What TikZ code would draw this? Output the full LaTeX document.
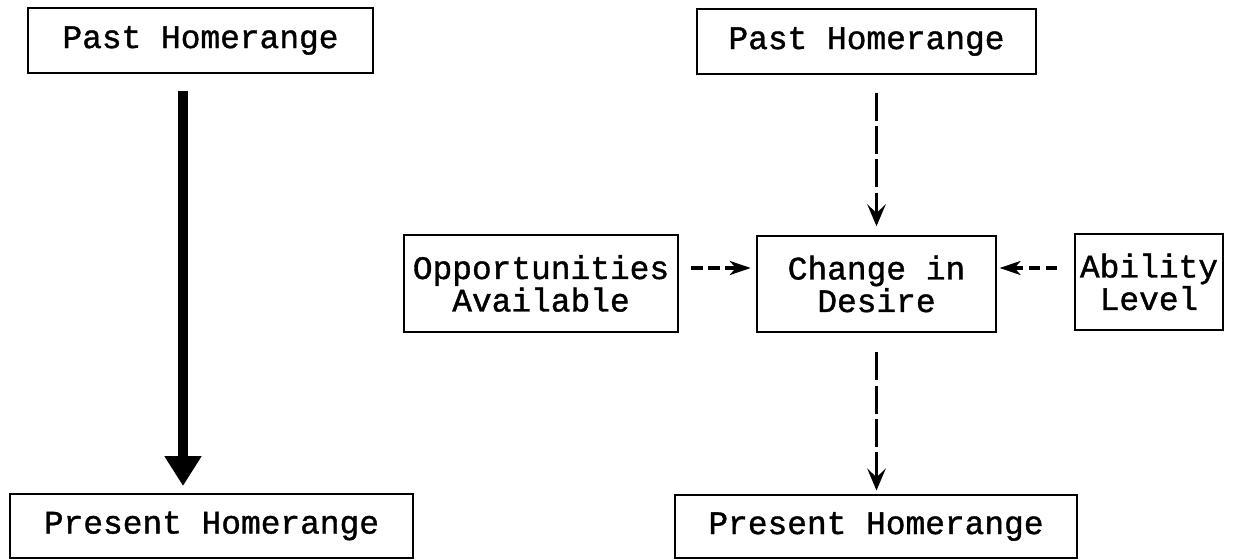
\documentclass[tikz,border=0pt]{standalone}
\usepackage{xcolor}
\usepackage{fontspec}
\setmainfont{Liberation Mono}
\newfontface\boxfont{Liberation Mono}[FakeBold=1.2]
\usepackage{tikz}
\usetikzlibrary{positioning,arrows.meta}

\begin{document}
\begin{tikzpicture}[x=0.02cm, y=-0.02cm,
  box/.style={draw, line width=1.1pt, inner sep=0pt, align=center,
    font=\boxfont\fontsize{18.7pt}{18.5pt}\selectfont},
  thickarr/.style={line width=5.7pt, -{Triangle[length=17pt, width=20pt]}},
  vdasharr/.style={line width=1.9pt, dash pattern=on 16pt off 3pt,
    -{Stealth[length=12.5pt, width=10.5pt, inset=5pt]}},
  hdasharr/.style={line width=1.9pt, dash pattern=on 6.5pt off 3.2pt,
    -{Stealth[length=12pt, width=8pt, inset=3.5pt]}}]

\useasboundingbox (0,0) rectangle (1233,560);

% nodes %
\node[box, minimum width=6.9cm, minimum height=1.3cm] (pastL) at (200.5,40.5) {Past Homerange};
\node[box, minimum width=8.06cm, minimum height=1.28cm] (presL) at (211.5,526) {Present Homerange};
\node[box, minimum width=6.78cm, minimum height=1.3cm] (pastR) at (866.5,41.5) {Past Homerange};
\node[box, minimum width=4.78cm, minimum height=1.92cm] (chg) at (876.5,284) {Change in\\Desire};
\node[box, minimum width=5.48cm, minimum height=1.94cm] (opp) at (541,283.5) {Opportunities\\Available};
\node[box, minimum width=2.96cm, minimum height=1.92cm] (abil) at (1149,282) {Ability\\Level};
\node[box, minimum width=8.04cm, minimum height=1.26cm] (presR) at (876,526.5) {Present Homerange};

\coordinate (arrL) at (183,0);
\coordinate (midrow) at (0,268);

% edges %

%left%
\draw[thickarr, shorten <=9.5pt, shorten >=4pt] (pastL.south -| arrL) -- (presL.north -| arrL);

%right%
\draw[vdasharr, shorten <=10pt, shorten >=5pt] (pastR.south -| chg) -- (chg.north);
\draw[vdasharr, shorten <=11pt, shorten >=2pt] (chg.south) -- (presR.north -| chg);
\draw[hdasharr, shorten <=7pt, shorten >=3pt] (opp.east |- midrow) -- (chg.west |- midrow);
\draw[hdasharr, shorten <=9.5pt, shorten >=1.5pt] (abil.west |- midrow) -- (chg.east |- midrow);

\end{tikzpicture}
\end{document}
